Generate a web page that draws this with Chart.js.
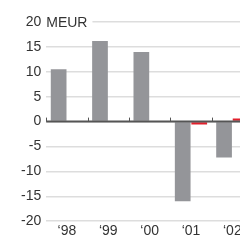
<!DOCTYPE html>
<html>
<head>
<meta charset="utf-8">
<script src="https://cdn.jsdelivr.net/npm/chart.js@4/dist/chart.umd.min.js"></script>
<style>
    html, body { margin: 0; padding: 0; background: #fff; overflow: hidden; }
    #wrap { width: 253px; height: 242px; position: relative; }
</style>
</head>
<body>
<div id="wrap"><canvas id="grafica"></canvas></div>
<script>
// Datos
const anios = ['\u201898', '\u201899', '\u201800', '\u201801', '\u201802'];
const serieGris = [10.5, 16.2, 14.0, -16.0, -7.2];
const serieRoja = [null, null, null, -0.6, 0.6];
const ticksY = [-20, -15, -10, -5, 0, 5, 10, 15, 20];
const unidad = 'MEUR';

const fuente = { family: 'Liberation Sans, Arial, Helvetica, sans-serif', size: 14 };

// Linea del cero, marcas de categoria y la unidad junto al 20
const extras = {
    id: 'extras',
    afterDatasetsDraw(chart) {
        const ctx = chart.ctx;
        const x = chart.scales.x;
        const y = chart.scales.y;
        const y0 = y.getPixelForValue(0);
        ctx.save();
        ctx.strokeStyle = '#555555';
        ctx.lineWidth = 2;
        ctx.beginPath();
        ctx.moveTo(chart.chartArea.left, y0);
        ctx.lineTo(chart.chartArea.right, y0);
        ctx.stroke();
        ctx.lineWidth = 1;
        for (let i = 0; i < anios.length; i++) {
            const px = Math.round(x.getPixelForValue(i) - (x.getPixelForValue(1) - x.getPixelForValue(0)) / 2) + 0.5;
            ctx.beginPath();
            ctx.moveTo(px, y0);
            ctx.lineTo(px, y0 - 4);
            ctx.stroke();
        }
        // unidad
        const yTop = y.getPixelForValue(ticksY[ticksY.length - 1]);
        ctx.font = fuente.size + 'px ' + fuente.family;
        const w = ctx.measureText(unidad).width;
        const xIni = chart.chartArea.left;
        ctx.fillStyle = '#ffffff';
        ctx.fillRect(xIni - 1, yTop - 8, w + 6, 16);
        ctx.fillStyle = '#333333';
        ctx.textBaseline = 'middle';
        ctx.fillText(unidad, xIni, yTop + 1);
        ctx.restore();
    }
};

new Chart(document.getElementById('grafica'), {
    type: 'bar',
    data: {
        labels: anios,
        datasets: [
            {
                data: serieGris,
                backgroundColor: '#949599',
                barPercentage: 0.95,
                categoryPercentage: 0.8
            },
            {
                data: serieRoja,
                backgroundColor: '#e2202c',
                barPercentage: 0.95,
                categoryPercentage: 0.8
            }
        ]
    },
    options: {
        responsive: true,
        maintainAspectRatio: false,
        animation: false,
        layout: { padding: { top: 22, left: 16, right: 0, bottom: 0 } },
        plugins: {
            legend: { display: false },
            tooltip: { enabled: false }
        },
        scales: {
            x: {
                grid: { display: false, drawTicks: false },
                border: { display: false },
                ticks: { color: '#333333', font: fuente, padding: 2, maxRotation: 0 }
            },
            y: {
                min: -20,
                max: 20,
                afterBuildTicks: (axis) => { axis.ticks = ticksY.map(v => ({ value: v })); },
                grid: { color: '#dddddd', lineWidth: 1.5, drawTicks: false },
                border: { display: false },
                ticks: { color: '#333333', font: fuente, padding: 5 }
            }
        }
    },
    plugins: [extras]
});
</script>
</body>
</html>
